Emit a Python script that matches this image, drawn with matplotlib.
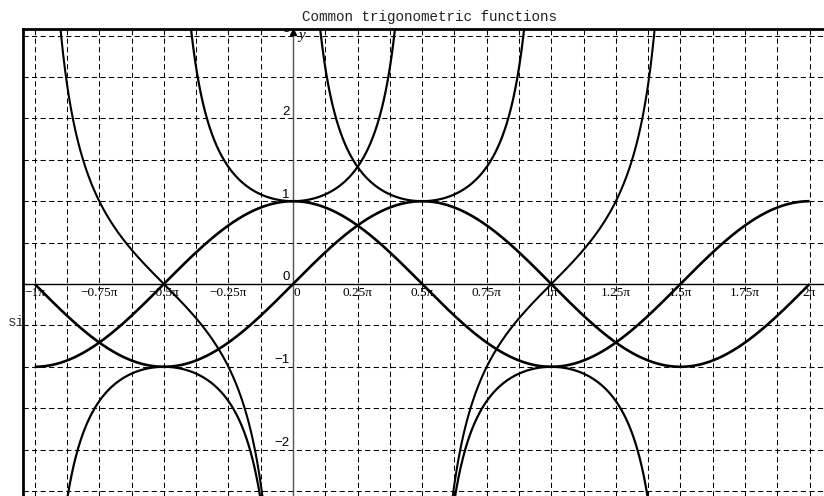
import numpy as np
import matplotlib.pyplot as plt
from matplotlib.transforms import offset_copy

PI = np.pi

title = 'Common trigonometric functions'

# tick positions in multiples of pi, labels as shown
x_tick_pos = [-1, -0.75, -0.5, -0.25, 0, 0.25, 0.5, 0.75, 1, 1.25, 1.5, 1.75, 2]
x_tick_labels = ['−1π', '−0.75π', '−0.5π', '−0.25π', '0', '0.25π', '0.5π',
                 '0.75π', '1π', '1.25π', '1.5π', '1.75π', '2π']
y_tick_pos = [-2, -1, 0, 1, 2, 3]
y_tick_labels = ['−2', '−1', '0', '1', '2', '3']

# which pieces of each function are drawn (domain ends in multiples of pi)
sin_pieces = [(-1, 2)]
cos_pieces = [(-1, 2)]
sec_pieces = [(-0.5, 0.5), (0.5, 1.5)]
csc_pieces = [(-1, 0), (0, 1)]
cot_pieces = [(-1, 0)]
tan_pieces = [(0.5, 1.5)]

funcs = [
    (np.sin, sin_pieces, 1.9),
    (np.cos, cos_pieces, 1.9),
    (lambda t: 1 / np.cos(t), sec_pieces, 1.6),
    (lambda t: 1 / np.sin(t), csc_pieces, 1.6),
    (lambda t: 1 / np.tan(t), cot_pieces, 1.5),
    (np.tan, tan_pieces, 1.5),
]

W, H = 824, 496
fig = plt.figure(figsize=(W / 100, H / 100), dpi=100)

# the axes frame starts at (23, 29) px and runs off the right/bottom of the picture
ax = fig.add_axes([23 / W, 0, (W - 23) / W, (H - 29) / H])

ppi = 258.3   # pixels per pi
x0 = 293.0    # pixel column of x = 0
py = 82.8     # pixels per unit in y
y0 = 284.0    # pixel row of y = 0

ax.set_xlim((23 - x0) / ppi * PI, (W - x0) / ppi * PI)
ax.set_ylim(-(H - y0) / py, (y0 - 29) / py)

# dashed grid every pi/8 and every 0.5
ax.set_xticks(np.arange(-1, 2.01, 0.125) * PI)
ax.set_yticks(np.arange(-2.5, 3.01, 0.5))
ax.tick_params(length=0, labelbottom=False, labelleft=False)
ax.grid(True, color='black', lw=0.75, linestyle=(0, (5.0, 3.2)))
ax.set_axisbelow(True)

for s in ['right', 'bottom']:
    ax.spines[s].set_visible(False)
for s in ['left', 'top']:
    ax.spines[s].set_linewidth(2)
    ax.spines[s].set_color('black')

# coordinate axes
ax.axhline(0, color='black', lw=1, zorder=2)
ax.axvline(0, color='#555555', lw=1, zorder=2)
ax.plot([0], [(y0 - 32) / py], marker='^', color='black', ms=5, zorder=3,
        clip_on=False)
ax.text(0, (y0 - 32) / py, 'y', fontsize=11, style='italic',
        family='Liberation Serif', ha='left', va='top',
        transform=offset_copy(ax.transData, fig=fig, x=4, y=2, units='points'))

# curves
for f, pieces, lw in funcs:
    for a, b in pieces:
        t = np.linspace(a * PI + 1e-3, b * PI - 1e-3, 1500)
        v = f(t)
        v[np.abs(v) > 20] = np.nan
        ax.plot(t, v, color='black', lw=lw, solid_capstyle='butt', zorder=4)

# tick labels
for p, lab in zip(x_tick_pos, x_tick_labels):
    xo = 2.5 if p == 0 else 0
    ax.text(p * PI, 0, lab, fontsize=9.5, family='Liberation Serif',
            ha='center', va='top', zorder=5,
            transform=offset_copy(ax.transData, fig=fig, x=xo, y=-2.5, units='points'))
for v, lab in zip(y_tick_pos, y_tick_labels):
    ax.text(0, v, lab, fontsize=9.5, family='Liberation Sans',
            ha='right', va='bottom', zorder=5, clip_on=True,
            transform=offset_copy(ax.transData, fig=fig, x=-2.5, y=0.5, units='points'))

fig.text(430 / W, 1 - 17 / H, title, fontsize=10.3, family='Liberation Mono',
         ha='center', va='center', color='#222222')
fig.text(8 / W, 1 - 322 / H, 'si', fontsize=10.3, family='Liberation Mono',
         ha='left', va='center', color='#333333')

fig.savefig('out.png', dpi=100)
